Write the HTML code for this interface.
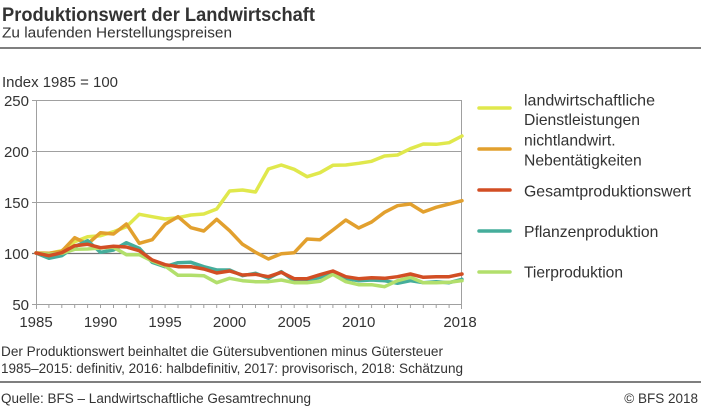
<!DOCTYPE html>
<html><head><meta charset="utf-8"><style>
html,body{margin:0;padding:0;background:#fff;}
svg{display:block;}
text{font-family:"Liberation Sans",sans-serif;fill:#333;}
</style></head><body>
<svg width="701" height="410" viewBox="0 0 701 410" xmlns="http://www.w3.org/2000/svg">
<rect width="701" height="410" fill="#fff"/>
<text x="2" y="21" font-size="19.5" font-weight="bold" fill="#222" textLength="313" lengthAdjust="spacingAndGlyphs">Produktionswert der Landwirtschaft</text>
<text x="2" y="37.5" font-size="15" textLength="230" lengthAdjust="spacingAndGlyphs">Zu laufenden Herstellungspreisen</text>
<line x1="0" y1="48" x2="701" y2="48" stroke="#333" stroke-width="1.3"/>
<text x="2" y="87" font-size="14.5" textLength="116" lengthAdjust="spacingAndGlyphs">Index 1985 = 100</text>
<!-- grid -->
<g stroke="#a0a0a0" stroke-width="1">
<line x1="32" y1="100.5" x2="462" y2="100.5"/>
<line x1="32" y1="151.5" x2="462" y2="151.5"/>
<line x1="32" y1="202.5" x2="462" y2="202.5"/>
<line x1="32" y1="304.5" x2="462" y2="304.5"/>
<line x1="36.5" y1="100" x2="36.5" y2="304"/>
<line x1="461.5" y1="100" x2="461.5" y2="309"/>
</g>
<line x1="32" y1="253.5" x2="462" y2="253.5" stroke="#777" stroke-width="1.2"/>
<g stroke="#a0a0a0" stroke-width="1">
<line x1="36.5" y1="304" x2="36.5" y2="309"/><line x1="48.9" y1="304" x2="48.9" y2="308"/><line x1="61.8" y1="304" x2="61.8" y2="308"/><line x1="74.7" y1="304" x2="74.7" y2="308"/><line x1="87.6" y1="304" x2="87.6" y2="308"/><line x1="100.5" y1="304" x2="100.5" y2="308"/><line x1="113.5" y1="304" x2="113.5" y2="308"/><line x1="126.4" y1="304" x2="126.4" y2="308"/><line x1="139.3" y1="304" x2="139.3" y2="308"/><line x1="152.2" y1="304" x2="152.2" y2="308"/><line x1="165.1" y1="304" x2="165.1" y2="308"/><line x1="178" y1="304" x2="178" y2="308"/><line x1="190.9" y1="304" x2="190.9" y2="308"/><line x1="203.8" y1="304" x2="203.8" y2="308"/><line x1="216.7" y1="304" x2="216.7" y2="308"/><line x1="229.6" y1="304" x2="229.6" y2="308"/><line x1="242.5" y1="304" x2="242.5" y2="308"/><line x1="255.5" y1="304" x2="255.5" y2="308"/><line x1="268.4" y1="304" x2="268.4" y2="308"/><line x1="281.3" y1="304" x2="281.3" y2="308"/><line x1="294.2" y1="304" x2="294.2" y2="308"/><line x1="307.1" y1="304" x2="307.1" y2="308"/><line x1="320" y1="304" x2="320" y2="308"/><line x1="332.9" y1="304" x2="332.9" y2="308"/><line x1="345.8" y1="304" x2="345.8" y2="308"/><line x1="358.7" y1="304" x2="358.7" y2="308"/><line x1="371.6" y1="304" x2="371.6" y2="308"/><line x1="384.5" y1="304" x2="384.5" y2="308"/><line x1="397.5" y1="304" x2="397.5" y2="308"/><line x1="410.4" y1="304" x2="410.4" y2="308"/><line x1="423.3" y1="304" x2="423.3" y2="308"/><line x1="436.2" y1="304" x2="436.2" y2="308"/><line x1="449.1" y1="304" x2="449.1" y2="308"/>
</g>
<g font-size="15" text-anchor="end">
<text x="29" y="106">250</text>
<text x="29" y="157">200</text>
<text x="29" y="208">150</text>
<text x="29" y="259">100</text>
<text x="29" y="310">50</text>
</g>
<g font-size="15" text-anchor="middle">
<text x="36" y="327">1985</text>
<text x="100.5" y="327">1990</text>
<text x="165.1" y="327">1995</text>
<text x="229.6" y="327">2000</text>
<text x="294.2" y="327">2005</text>
<text x="358.7" y="327">2010</text>
<text x="460" y="327">2018</text>
</g>
<!-- series -->
<g fill="none" stroke-width="3.5" stroke-linejoin="round" stroke-linecap="round">
<polyline stroke="#e0e84c" points="36,253 48.9,253.3 61.8,250.7 74.7,241.7 87.6,236.7 100.5,235.7 113.5,231.7 126.4,226.7 139.3,214.3 152.2,216.7 165.1,219 178,217.7 190.9,215 203.8,214 216.7,209 229.6,191 242.5,190 255.5,192 268.4,169 281.3,165 294.2,169.3 307.1,176.7 320,172.7 332.9,165.3 345.8,165 358.7,163.3 371.6,161.3 384.5,156 397.5,155 410.4,148.7 423.3,144 436.2,144.3 449.1,142.7 462,136"/>
<polyline stroke="#e2a02e" points="36,253 48.9,253.3 61.8,251.3 74.7,237.7 87.6,244 100.5,232.7 113.5,234 126.4,224 139.3,243.3 152.2,239.7 165.1,224.3 178,216.7 190.9,227.7 203.8,231 216.7,219.3 229.6,230.7 242.5,244.3 255.5,252.3 268.4,259 281.3,253.7 294.2,252.7 307.1,239 320,239.7 332.9,230 345.8,220 358.7,228 371.6,222 384.5,212.3 397.5,205.7 410.4,204 423.3,212 436.2,207.3 449.1,204 462,200.7"/>
<polyline stroke="#45ad9b" points="36,253 48.9,258.3 61.8,255.7 74.7,246.7 87.6,240.7 100.5,252.3 113.5,250 126.4,242.7 139.3,248.3 152.2,262.3 165.1,266.7 178,262.7 190.9,262.3 203.8,266.7 216.7,270 229.6,270 242.5,275.7 255.5,273.3 268.4,278.3 281.3,271.7 294.2,281 307.1,281 320,277.3 332.9,274.3 345.8,278.7 358.7,280.7 371.6,280 384.5,280.7 397.5,283.3 410.4,280.7 423.3,282.7 436.2,281.7 449.1,282.7 462,279.3"/>
<polyline stroke="#b2df6c" points="36,253 48.9,254.3 61.8,253.3 74.7,249.3 87.6,249 100.5,248 113.5,247.3 126.4,254.7 139.3,254.7 152.2,261 165.1,266 178,275.3 190.9,275.3 203.8,275.7 216.7,282.7 229.6,278.3 242.5,280.7 255.5,281.7 268.4,281.7 281.3,280 294.2,282.7 307.1,282.7 320,281.3 332.9,274.3 345.8,281.7 358.7,284.7 371.6,284.7 384.5,286.7 397.5,280.7 410.4,277.3 423.3,282.7 436.2,282.7 449.1,282.3 462,280.7"/>
<polyline stroke="#d24e24" points="36,253 48.9,255.7 61.8,252.7 74.7,245.7 87.6,244.3 100.5,247.7 113.5,246.3 126.4,247 139.3,250.7 152.2,260 165.1,264.7 178,266.7 190.9,266.7 203.8,269 216.7,273 229.6,271 242.5,275 255.5,274.3 268.4,276.7 281.3,272.3 294.2,278.7 307.1,278.7 320,274.7 332.9,271 345.8,276.7 358.7,278.7 371.6,277.7 384.5,278.3 397.5,276.7 410.4,274 423.3,277.3 436.2,276.7 449.1,276.7 462,274"/>
</g>
<!-- legend -->
<g stroke-width="3.5" stroke-linecap="round">
<line x1="479" y1="108" x2="510" y2="108" stroke="#e0e84c"/>
<line x1="479" y1="149" x2="510" y2="149" stroke="#e2a02e"/>
<line x1="479" y1="190" x2="510" y2="190" stroke="#d24e24"/>
<line x1="479" y1="231" x2="510" y2="231" stroke="#45ad9b"/>
<line x1="479" y1="272" x2="510" y2="272" stroke="#b2df6c"/>
</g>
<g font-size="15.7">
<text x="524" y="105.5" textLength="131" lengthAdjust="spacingAndGlyphs">landwirtschaftliche</text>
<text x="524" y="125">Dienstleistungen</text>
<text x="524" y="145.5">nichtlandwirt.</text>
<text x="524" y="165.5">Nebentätigkeiten</text>
<text x="524" y="196.5" textLength="167" lengthAdjust="spacingAndGlyphs">Gesamtproduktionswert</text>
<text x="524" y="237">Pflanzenproduktion</text>
<text x="524" y="277.5" textLength="99" lengthAdjust="spacingAndGlyphs">Tierproduktion</text>
</g>
<g font-size="13.5">
<text x="1" y="356" textLength="442" lengthAdjust="spacingAndGlyphs">Der Produktionswert beinhaltet die Gütersubventionen minus Gütersteuer</text>
<text x="1" y="373" textLength="462" lengthAdjust="spacingAndGlyphs">1985–2015: definitiv, 2016: halbdefinitiv, 2017: provisorisch, 2018: Schätzung</text>
</g>
<line x1="0" y1="382" x2="701" y2="382" stroke="#333" stroke-width="1.3"/>
<text x="1" y="403" font-size="13.5" textLength="310" lengthAdjust="spacingAndGlyphs">Quelle: BFS – Landwirtschaftliche Gesamtrechnung</text>
<text x="698" y="403" font-size="13.5" text-anchor="end">© BFS  2018</text>
</svg>
</body></html>
